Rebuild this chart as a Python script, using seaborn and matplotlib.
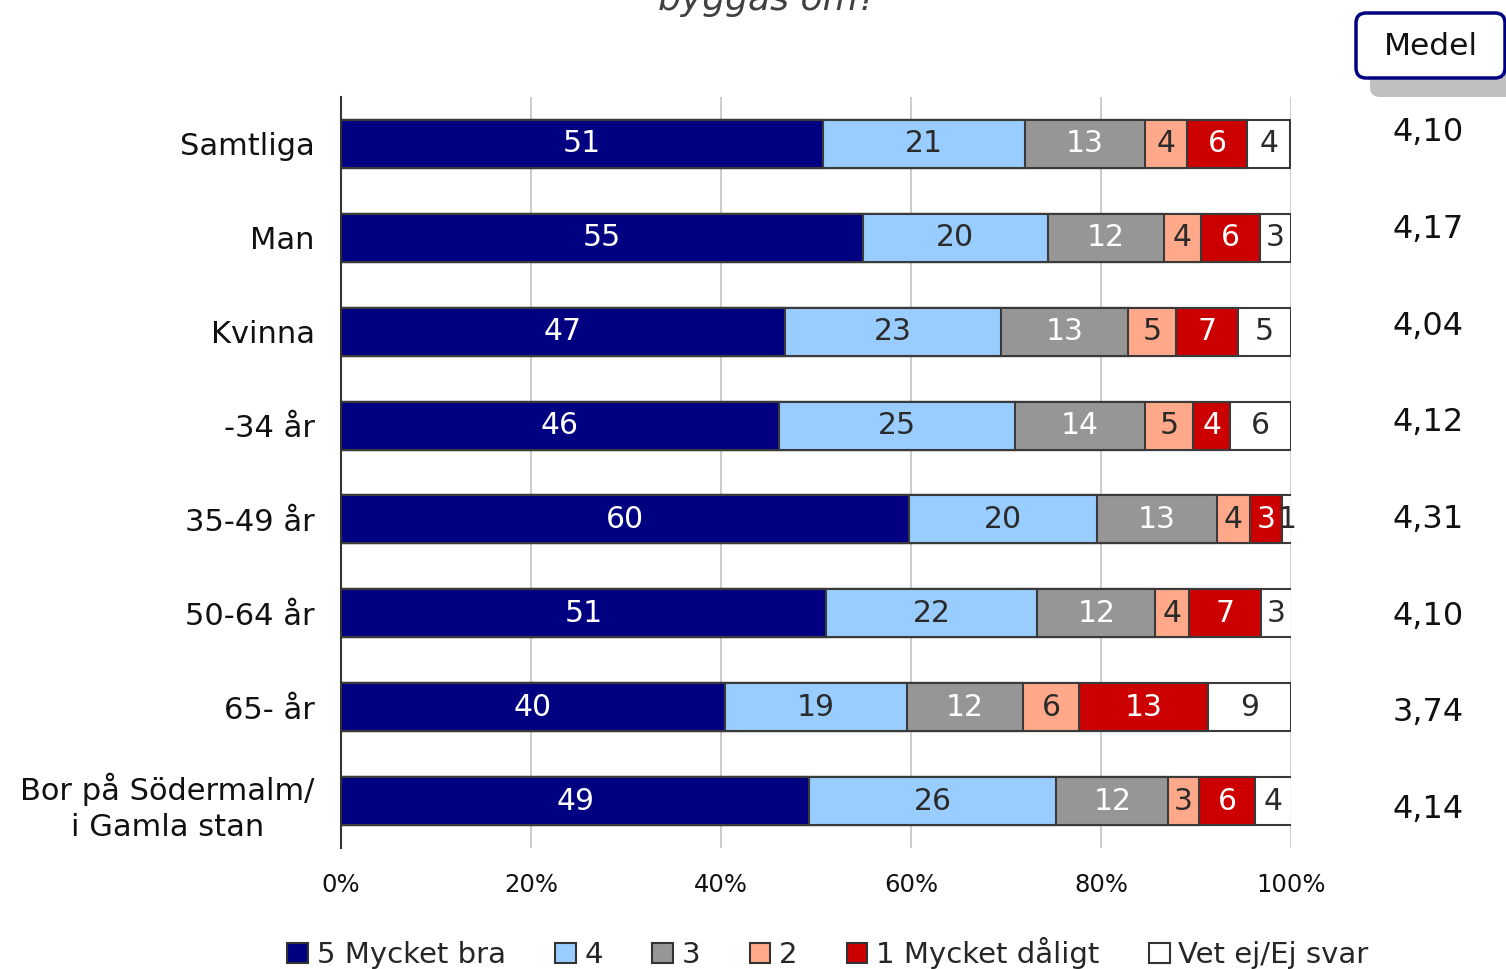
import numpy as np
import pandas as pd
import matplotlib
matplotlib.use("Agg")
import matplotlib.pyplot as plt
import matplotlib.transforms as mtransforms
import seaborn as sns
from matplotlib.patches import FancyBboxPatch, Patch

sns.set_style("white")
plt.rcParams['font.family'] = ['DejaVu Sans']

# Grupper (y-axeln) och svarsalternativ
grupper = ["Samtliga", "Man", "Kvinna", "-34 år", "35-49 år", "50-64 år",
           "65- år", "Bor på Södermalm/\ni Gamla stan"]
serier = ["5 Mycket bra", "4", "3", "2", "1 Mycket dåligt", "Vet ej/Ej svar"]
farger = ["#000080", "#99CCFF", "#969696", "#FFA98A", "#CC0000", "#FFFFFF"]
textfarg = ["white", "#2a2a2a", "white", "#2a2a2a", "white", "#2a2a2a"]

# Andelar i procent
mycket_bra = [50.7, 54.9, 46.7, 46.1, 59.8, 51.1, 40.4, 49.3]
fyra = [21.3, 19.5, 22.8, 24.8, 19.8, 22.2, 19.2, 26.0]
tre = [12.6, 12.2, 13.3, 13.7, 12.6, 12.4, 12.2, 11.8]
tva = [4.5, 3.9, 5.1, 5.1, 3.5, 3.6, 5.9, 3.2]
mycket_daligt = [6.3, 6.2, 6.5, 3.9, 3.3, 7.5, 13.6, 5.9]
vet_ej = [4.5, 3.3, 5.6, 6.4, 1.1, 3.3, 8.7, 3.9]

# Etiketterna som de står i staplarna
etikett_5 = [51, 55, 47, 46, 60, 51, 40, 49]
etikett_4 = [21, 20, 23, 25, 20, 22, 19, 26]
etikett_3 = [13, 12, 13, 14, 13, 12, 12, 12]
etikett_2 = [4, 4, 5, 5, 4, 4, 6, 3]
etikett_1 = [6, 6, 7, 4, 3, 7, 13, 6]
etikett_vetej = [4, 3, 5, 6, 1, 3, 9, 4]

medel = ["4,10", "4,17", "4,04", "4,12", "4,31", "4,10", "3,74", "4,14"]

andelar = np.array([mycket_bra, fyra, tre, tva, mycket_daligt, vet_ej])
etiketter = [etikett_5, etikett_4, etikett_3, etikett_2, etikett_1, etikett_vetej]
kum = andelar.cumsum(axis=0)

W, H = 1506, 969
fig = plt.figure(figsize=(W / 100, H / 100), dpi=100)
ax = fig.add_axes([341 / W, 1 - 848 / H, 950 / W, 751 / H])

# Staplade staplar: rita kumulativa summor bakifrån
for i in range(len(serier) - 1, -1, -1):
    d = pd.DataFrame({"grupp": grupper, "kum": kum[i]})
    sns.barplot(data=d, x="kum", y="grupp", color=farger[i], saturation=1,
                width=0.51, edgecolor="#3a3a3a", linewidth=1.5, ax=ax, zorder=2)

# Värdeetiketter i segmenten
for i in range(len(serier)):
    for j in range(len(grupper)):
        mitt = kum[i][j] - andelar[i][j] / 2
        ax.text(mitt, j, str(etiketter[i][j]), ha="center", va="center",
                color=textfarg[i], fontsize=21.5, zorder=3)

ax.set_xlim(0, 100)
ax.set_xticks([0, 20, 40, 60, 80, 100])
ax.set_xticklabels(["0%", "20%", "40%", "60%", "80%", "100%"], fontsize=17.5)
ax.set_xlabel("")
ax.set_ylabel("")
ax.tick_params(axis="x", length=0, pad=18, colors="#111111")
ax.tick_params(axis="y", length=0, pad=19, labelsize=22, colors="#111111")
for lab in ax.get_yticklabels():
    lab.set_multialignment("center")
    lab.set_linespacing(1.3)
ax.set_axisbelow(True)
ax.xaxis.grid(True, color="#c8c8c8", linewidth=1.3)
sns.despine(ax=ax, top=True, right=True, bottom=True, left=False)
ax.spines["left"].set_color("#333333")
ax.spines["left"].set_linewidth(1.5)

# Medelvärden till höger
trans = mtransforms.blended_transform_factory(ax.transAxes, ax.transData)
for j, m in enumerate(medel):
    ax.text(1.144, j - 0.12 + 0.03 * j, m, transform=trans, ha="center",
            va="center", fontsize=23, color="#111111", clip_on=False)

# Överlagrad yta i pixelkoordinater för rutan "Medel"
ov = fig.add_axes([0, 0, 1, 1])
ov.set_xlim(0, W)
ov.set_ylim(H, 0)
ov.axis("off")
ov.patch.set_alpha(0)
ov.add_patch(FancyBboxPatch((1370, 30), 160, 67,
                            boxstyle="round,pad=0,rounding_size=10",
                            fc="#c0c0c0", ec="none"))
ov.add_patch(FancyBboxPatch((1356, 13), 149, 65,
                            boxstyle="round,pad=0,rounding_size=10",
                            fc="white", ec="#000080", lw=2.5))
ov.text(1431, 46, "Medel", ha="center", va="center", fontsize=22.5, color="#111111")

# Titel (delvis avskuren upptill)
fig.text(767 / W, 1 - 10 / H, "byggas om?", ha="center", va="baseline",
         style="italic", fontsize=26, color="#404040")

# Teckenförklaring
handtag = [Patch(fc=c, ec="#333333", lw=1.5) for c in farger]
fig.legend(handtag, serier, loc="center", bbox_to_anchor=(828 / W, 1 - 953 / H),
           ncol=6, frameon=False, fontsize=21, handlelength=0.7,
           handleheight=0.7, handletextpad=0.3, columnspacing=1.7)

fig.savefig("out.png", dpi=100)
